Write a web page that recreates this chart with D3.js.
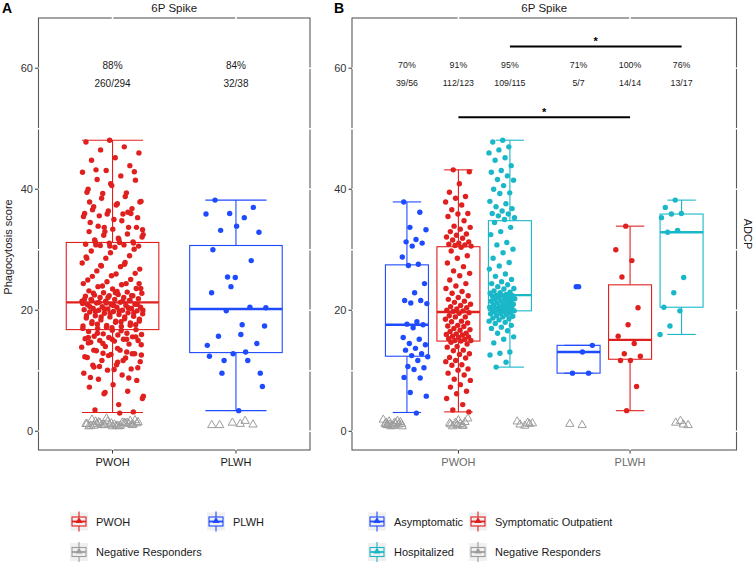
<!DOCTYPE html>
<html>
<head>
<meta charset="utf-8">
<script src="https://cdn.jsdelivr.net/npm/d3@7"></script>
<style>
  body { margin: 0; background: #fff; }
  text { font-family: "Liberation Sans", Arial, sans-serif; }
</style>
</head>
<body>
<svg id="chart" width="754" height="564"></svg>
<script>
// ---- data ----
var groups = ["PWOH", "PLWH"];
var subgroups = ["Asymptomatic", "Symptomatic Outpatient", "Hospitalized"];

var asymPWOH = [37.9, 36.2, 33.7, 33.3, 31.7, 31.3, 31.1, 30.6, 28.8, 27.6, 27.4, 24.4, 22.9, 21.6, 21.6, 21.2, 21.1, 18.1, 17.7,
  17.6, 17.1, 15.5, 15.2, 14.5, 14.3, 13.7, 13.4, 12.8, 12.5, 12.3, 11.7, 10.7, 10.5, 10.2, 8.9, 8.8, 6.4, 5.8, 3.0];
var sympPWOH = [43.2, 42.9, 40.9, 39.5, 38.8, 38.5, 37.9, 37.4, 36.6, 36.0, 35.9, 35.5, 34.8, 33.9, 33.7, 33.4, 33.0, 32.6, 32.4, 32.1, 31.9, 31.6, 31.3, 31.1, 30.9, 30.8, 30.7, 30.6,
  30.4, 29.8, 29.0, 28.6, 27.8, 27.2, 26.5, 26.1, 25.7, 25.0, 24.4, 24.0, 23.6, 23.1, 22.8, 22.4, 22.1, 21.8, 21.5, 21.3, 21.0, 20.8, 20.6, 20.4, 20.2, 20.0, 19.9, 19.8,
  19.6, 19.5, 19.1, 18.9, 18.9, 18.5, 18.2, 18.1, 17.9, 17.5, 17.4, 17.3, 17.0, 16.8, 16.7, 16.5, 16.2, 16.1, 16.0, 15.9, 15.7, 15.6, 15.5, 15.3, 15.2, 15.0, 15.0, 14.9,
  14.7, 14.4, 14.0, 13.9, 13.4, 13.3, 12.8, 12.7, 12.2, 12.1, 11.7, 11.5, 11.0, 10.9, 10.3, 10.1, 9.6, 9.3, 8.6, 8.4, 7.7, 7.3, 6.6, 6.2, 5.4, 4.4, 3.5, 3.2];
var hospPWOH = [48.1, 47.8, 47.0, 46.5, 46.0, 45.2, 44.8, 43.9, 43.1, 42.8, 42.2, 41.6, 41.5, 40.6, 40.0, 39.4, 39.3, 38.0, 37.6, 37.1, 36.8, 36.4, 36.0, 35.9, 35.6, 35.3, 35.0,
  34.5, 33.7, 33.0, 32.5, 31.2, 30.8, 30.1, 29.5, 28.6, 27.9, 27.3, 26.8, 26.0, 25.6, 25.1, 24.7, 24.4, 24.2, 23.9, 23.6, 23.5, 23.2, 23.0, 22.9, 22.8, 22.6, 22.5,
  22.4, 22.4, 22.3, 22.1, 22.1, 21.9, 21.8, 21.8, 21.6, 21.5, 21.5, 21.3, 21.2, 21.0, 20.9, 20.9, 20.8, 20.6, 20.5, 20.5, 20.3, 20.3, 20.2, 20.1, 20.0, 20.0, 19.9,
  19.8, 19.7, 19.6, 19.5, 19.4, 19.3, 19.1, 19.0, 18.9, 18.7, 18.6, 18.4, 18.2, 18.0, 17.8, 17.5, 17.2, 17.0, 16.6, 16.2, 15.6, 15.2, 14.6, 13.1, 12.9, 12.6, 11.4, 10.6];
var asymPLWH = [23.9, 14.2, 13.1, 9.6, 9.6];
var sympPLWH = [33.9, 30.0, 28.2, 25.5, 20.4, 17.6, 15.7, 14.5, 12.8, 12.4, 11.7, 11.7, 7.4, 3.4];
var hospPLWH = [38.2, 37.0, 36.0, 35.9, 35.3, 33.2, 32.9, 25.4, 22.9, 20.5, 19.9, 17.4, 16.0];

// negative responders (open triangles near zero)
var negAsymPWOH = [1.6, 1.2, 0.9, 1.4, 1.1, 0.8, 1.9, 1.3, 1.0, 1.5, 0.9, 1.2, 1.7, 1.1, 0.8, 1.4, 1.0];
var negSympPWOH = [1.8, 1.1, 0.9, 1.4, 2.1, 1.2, 0.8, 1.5, 1.0, 1.3, 0.9];
var negHospPWOH = [1.4, 1.1, 1.3, 0.9, 1.6, 1.2];
var negAsymPLWH = [1.2, 1.0];
var negSympPLWH = [];
var negHospPLWH = [1.1, 1.4, 1.0, 1.7];

// box stats [lower whisker, Q1, median, Q3, upper whisker]
var boxA = [[3.1, 16.8, 21.3, 31.2, 48.1], [3.4, 13.0, 20.2, 30.7, 38.2]];
var boxB = [
  [[3.1, 12.4, 17.6, 27.5, 37.9], [3.2, 14.9, 19.7, 30.5, 43.2], [10.6, 19.9, 22.5, 34.8, 48.1]],
  [[9.6, 9.6, 13.1, 14.2, 14.2], [3.4, 11.9, 15.1, 24.2, 33.9], [16.0, 20.5, 32.9, 35.9, 38.2]]
];
var outliersB = [[[], [], []], [[23.9], [], []]];

var pctA = ["88%", "84%"];
var countA = ["260/294", "32/38"];
var pctB = [["70%", "91%", "95%"], ["71%", "100%", "76%"]];
var countB = [["39/56", "112/123", "109/115"], ["5/7", "14/14", "13/17"]];

var sigPairs = [
  { sub: "Hospitalized", level: 63.6 },
  { sub: "Symptomatic Outpatient", level: 51.9 }
];

var yTicks = [0, 20, 40, 60];
var yMinor = [10, 30, 50];

// ---- styling ----
var RED = "#e0201f", BLUE = "#1f4bff", CYAN = "#19b7c8", GREY = "#9d9d9d";
var subColor = { "Asymptomatic": BLUE, "Symptomatic Outpatient": RED, "Hospitalized": CYAN };
var groupColor = { "PWOH": RED, "PLWH": BLUE };

var svg = d3.select("#chart");
svg.append("rect").attr("width", 754).attr("height", 564).attr("fill", "#fff");

var y = d3.scaleLinear().domain([-3.1, 68.3]).range([450, 18]);
var xA = d3.scalePoint().domain(groups).range([38.5, 310]).padding(0.6);
var xB = d3.scalePoint().domain(groups).range([352, 736.5]).padding(0.62);
var sub = d3.scaleBand().domain(subgroups).range([-0.45, 0.45]).paddingInner(0.165).paddingOuter(0.0825);

function subX(g, s) {
  return xB(g) + (sub(s) + sub.bandwidth() / 2) * xB.step();
}

// deterministic jitter in [-1, 1]
function jit(i, seed) {
  var f = (i * 0.6180339887 + seed) % 1;
  return f * 2 - 1;
}

function panelFrame(x, x0, x1, tickColor) {
  var g = svg.append("g");
  g.append("rect").attr("x", x0).attr("y", 18).attr("width", x1 - x0).attr("height", 432)
    .attr("fill", "none").attr("stroke", "#5a5a5a").attr("stroke-width", 1.1);
  // white grid lines, only visible where they cut the border
  yTicks.concat(yMinor).forEach(function (t) {
    g.append("line").attr("x1", x0 - 1).attr("x2", x1 + 1).attr("y1", y(t)).attr("y2", y(t))
      .attr("stroke", "#fff").attr("stroke-width", 1.6);
  });
  groups.forEach(function (c) {
    g.append("line").attr("x1", x(c)).attr("x2", x(c)).attr("y1", 17).attr("y2", 451)
      .attr("stroke", "#fff").attr("stroke-width", 1.6);
  });
  yTicks.forEach(function (t) {
    g.append("line").attr("x1", x0 - 3.5).attr("x2", x0).attr("y1", y(t)).attr("y2", y(t))
      .attr("stroke", "#333");
    g.append("text").attr("x", x0 - 5.5).attr("y", y(t) + 3.8).attr("text-anchor", "end")
      .attr("font-size", 11).attr("fill", "#333").text(t);
  });
  groups.forEach(function (c) {
    g.append("line").attr("x1", x(c)).attr("x2", x(c)).attr("y1", 450).attr("y2", 453.5)
      .attr("stroke", "#333");
    g.append("text").attr("x", x(c)).attr("y", 466).attr("text-anchor", "middle")
      .attr("font-size", 11).attr("fill", tickColor).text(c);
  });
  g.append("text").attr("x", (x0 + x1) / 2).attr("y", 12).attr("text-anchor", "middle")
    .attr("font-size", 11.5).attr("fill", "#1a1a1a").text("6P Spike");
  return g;
}

function drawBox(g, cx, w, st, color) {
  g.append("line").attr("x1", cx).attr("x2", cx).attr("y1", y(st[0])).attr("y2", y(st[1]))
    .attr("stroke", color).attr("stroke-width", 1.1);
  g.append("line").attr("x1", cx).attr("x2", cx).attr("y1", y(st[3])).attr("y2", y(st[4]))
    .attr("stroke", color).attr("stroke-width", 1.1);
  [st[0], st[4]].forEach(function (v) {
    g.append("line").attr("x1", cx - w * 0.33).attr("x2", cx + w * 0.33).attr("y1", y(v)).attr("y2", y(v))
      .attr("stroke", color).attr("stroke-width", 1.1);
  });
  g.append("rect").attr("x", cx - w / 2).attr("y", y(st[3])).attr("width", w)
    .attr("height", y(st[1]) - y(st[3])).attr("fill", "none")
    .attr("stroke", color).attr("stroke-width", 1.1);
  g.append("line").attr("x1", cx - w / 2).attr("x2", cx + w / 2).attr("y1", y(st[2])).attr("y2", y(st[2]))
    .attr("stroke", color).attr("stroke-width", 2.4);
}

var tri = d3.symbol().type(d3.symbolTriangle).size(30);

function drawPoints(g, cx, vals, half, shift, color, seed) {
  g.selectAll(null).data(vals).enter().append("circle")
    .attr("cx", function (d, i) { return cx + shift + jit(i, seed) * half; })
    .attr("cy", function (d) { return y(d); })
    .attr("r", 2.7).attr("fill", color);
}

function drawNeg(g, cx, vals, half, shift, seed) {
  g.selectAll(null).data(vals).enter().append("path")
    .attr("d", tri)
    .attr("transform", function (d, i) {
      return "translate(" + (cx + shift + jit(i, seed) * half) + "," + y(d) + ")";
    })
    .attr("fill", "none").attr("stroke", GREY).attr("stroke-width", 1);
}

// ---- panel A ----
var valsA = [asymPWOH.concat(sympPWOH, hospPWOH), asymPLWH.concat(sympPLWH, hospPLWH)];
var negA = [negAsymPWOH.concat(negSympPWOH, negHospPWOH), negAsymPLWH.concat(negSympPLWH, negHospPLWH)];
var gA = panelFrame(xA, 38.5, 310, "#1a1a1a");
groups.forEach(function (c, gi) {
  var cx = xA(c), w = xA.step() * 0.75;
  drawBox(gA, cx, w, boxA[gi], groupColor[c]);
  drawPoints(gA, cx, valsA[gi], 31, 0, groupColor[c], 0.13 + gi * 0.29);
  drawNeg(gA, cx, negA[gi], 27, 0, 0.41 + gi * 0.17);
  gA.append("text").attr("x", cx).attr("y", 68.5).attr("text-anchor", "middle")
    .attr("font-size", 10).attr("fill", "#1a1a1a").text(pctA[gi]);
  gA.append("text").attr("x", cx).attr("y", 86.5).attr("text-anchor", "middle")
    .attr("font-size", 10).attr("fill", "#1a1a1a").text(countA[gi]);
});
gA.append("text").attr("transform", "translate(12,247) rotate(-90)").attr("text-anchor", "middle")
  .attr("font-size", 11).attr("fill", "#1a1a1a").text("Phagocytosis score");
svg.append("text").attr("x", 2).attr("y", 13).attr("font-size", 14).attr("font-weight", "bold").text("A");

// ---- panel B ----
var valsB = [[asymPWOH, sympPWOH, hospPWOH], [asymPLWH, sympPLWH, hospPLWH]];
var negB = [[negAsymPWOH, negSympPWOH, negHospPWOH], [negAsymPLWH, negSympPLWH, negHospPLWH]];
var pointShift = [[8, 0, -8], [6, -2, -10]];
var negShift = [[-14, 0, 14], [-5, 0, -2]];
var gB = panelFrame(xB, 352, 736.5, "#6b6b6b");
groups.forEach(function (c, gi) {
  subgroups.forEach(function (s, si) {
    var cx = subX(c, s), w = sub.bandwidth() * xB.step();
    var col = subColor[s];
    drawBox(gB, cx, w, boxB[gi][si], col);
    drawPoints(gB, cx, valsB[gi][si], 13, pointShift[gi][si], col, 0.07 + si * 0.23 + gi * 0.11);
    drawNeg(gB, cx, negB[gi][si], 10, negShift[gi][si], 0.31 + si * 0.19);
    gB.selectAll(null).data(outliersB[gi][si]).enter().append("circle")
      .attr("cx", cx).attr("cy", function (d) { return y(d); }).attr("r", 2.7).attr("fill", col);
    gB.append("text").attr("x", cx).attr("y", 67.5).attr("text-anchor", "middle")
      .attr("font-size", 8.8).attr("fill", "#1a1a1a").text(pctB[gi][si]);
    gB.append("text").attr("x", cx).attr("y", 86).attr("text-anchor", "middle")
      .attr("font-size", 8.8).attr("fill", "#1a1a1a").text(countB[gi][si]);
  });
});
sigPairs.forEach(function (p) {
  var xa = subX("PWOH", p.sub), xb = subX("PLWH", p.sub);
  gB.append("line").attr("x1", xa).attr("x2", xb).attr("y1", y(p.level)).attr("y2", y(p.level))
    .attr("stroke", "#000").attr("stroke-width", 2);
  gB.append("text").attr("x", (xa + xb) / 2).attr("y", y(p.level) - 1.5).attr("text-anchor", "middle")
    .attr("font-size", 11).attr("font-weight", "bold").text("*");
});
gB.append("text").attr("transform", "translate(744,234) rotate(90)").attr("text-anchor", "middle")
  .attr("font-size", 11).attr("fill", "#1a1a1a").text("ADCP");
svg.append("text").attr("x", 334).attr("y", 13).attr("font-size", 14).attr("font-weight", "bold").text("B");

// ---- legends ----
var legendA = [
  { label: "PWOH", color: RED, x: 79, y: 521.5 },
  { label: "PLWH", color: BLUE, x: 216, y: 521.5 },
  { label: "Negative Responders", color: GREY, x: 79, y: 552 }
];
var legendB = [
  { label: "Asymptomatic", color: BLUE, x: 377, y: 521.5 },
  { label: "Symptomatic Outpatient", color: RED, x: 478, y: 521.5 },
  { label: "Hospitalized", color: CYAN, x: 377, y: 552 },
  { label: "Negative Responders", color: GREY, x: 478, y: 552 }
];
var keyTri = d3.symbol().type(d3.symbolTriangle).size(22);
legendA.concat(legendB).forEach(function (d) {
  var k = svg.append("g").attr("transform", "translate(" + d.x + "," + d.y + ")");
  k.append("rect").attr("x", -9).attr("y", -9).attr("width", 18).attr("height", 18).attr("fill", "#f0f0f0");
  k.append("line").attr("x1", 0).attr("x2", 0).attr("y1", -10).attr("y2", 10).attr("stroke", d.color).attr("stroke-width", 1.1);
  k.append("rect").attr("x", -7).attr("y", -4.5).attr("width", 14).attr("height", 9)
    .attr("fill", "#f0f0f0").attr("stroke", d.color).attr("stroke-width", 1.1);
  k.append("line").attr("x1", -7).attr("x2", 7).attr("y1", 0).attr("y2", 0).attr("stroke", d.color).attr("stroke-width", 1.8);
  k.append("path").attr("d", keyTri).attr("transform", "translate(0,-0.5)").attr("fill", d.color);
  k.append("text").attr("x", 17).attr("y", 4).attr("font-size", 11).attr("fill", "#1a1a1a").text(d.label);
});
</script>
</body>
</html>
